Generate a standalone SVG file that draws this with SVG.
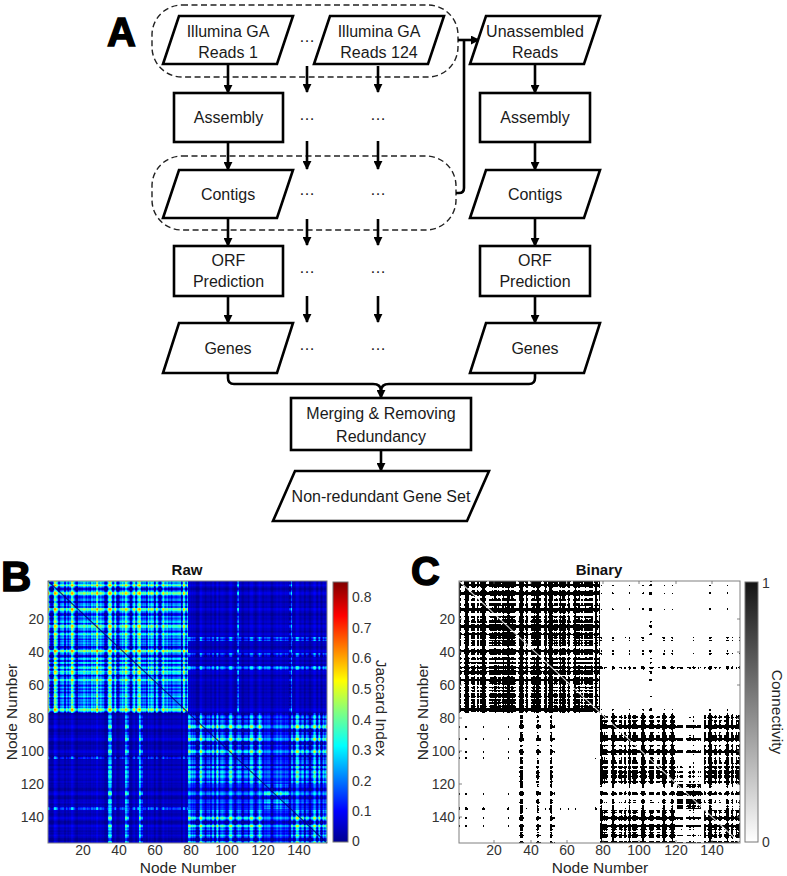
<svg xmlns="http://www.w3.org/2000/svg" width="787" height="876" viewBox="0 0 787 876">
<defs>
<style>
.box{fill:#fff;stroke:#000;stroke-width:2.6}
.dash{fill:none;stroke:#222;stroke-width:1.4;stroke-dasharray:6 3.5}
.conn{fill:none;stroke:#000;stroke-width:2.6}
.arr{marker-end:url(#ah)}
.t{font-family:"Liberation Sans",Arial,Helvetica,sans-serif;font-size:16px;fill:#1a1a1a;text-anchor:middle}
.big{font-family:"Liberation Sans",Arial,sans-serif;font-weight:bold;fill:#000;stroke:#000;stroke-width:1.4}
.tk{font-family:"Liberation Sans",Arial,sans-serif;font-size:14px;fill:#333}
.e{text-anchor:end}
.m{text-anchor:middle}
.ax{font-family:"Liberation Sans",Arial,sans-serif;font-size:15.5px;fill:#262626;text-anchor:middle}
.ttl{font-family:"Liberation Sans",Arial,sans-serif;font-size:15px;font-weight:bold;fill:#111;text-anchor:middle}
.frame{fill:none;stroke:#808080;stroke-width:1}
.tick{stroke:#666;stroke-width:0.8;fill:none}
</style>
<marker id="ah" viewBox="0 0 10 10" refX="9" refY="5" markerWidth="9" markerHeight="9" markerUnits="userSpaceOnUse" orient="auto"><path d="M0,0 L10,5 L0,10 Z" fill="#000"/></marker>
<linearGradient id="jet" x1="0" y1="1" x2="0" y2="0">
<stop offset="0" stop-color="#000090"/><stop offset="0.12" stop-color="#0000ff"/><stop offset="0.37" stop-color="#00ffff"/><stop offset="0.5" stop-color="#80ff80"/><stop offset="0.62" stop-color="#ffff00"/><stop offset="0.87" stop-color="#ff0000"/><stop offset="1" stop-color="#800000"/>
</linearGradient>
<linearGradient id="gray" x1="0" y1="1" x2="0" y2="0">
<stop offset="0" stop-color="#ffffff"/><stop offset="1" stop-color="#141414"/>
</linearGradient>
<filter id="rA" x="0" y="0" width="1" height="1" color-interpolation-filters="sRGB">
<feTurbulence type="fractalNoise" baseFrequency="0.24 0" numOctaves="2" seed="3" result="a"/>
<feColorMatrix in="a" type="matrix" values="3 0 0 0 -1.05 3 0 0 0 -1.05 3 0 0 0 -1.05 0 0 0 0 1" result="c"/>
<feTurbulence type="fractalNoise" baseFrequency="0 0.24" numOctaves="2" seed="11" result="b"/>
<feColorMatrix in="b" type="matrix" values="3 0 0 0 -1.05 3 0 0 0 -1.05 3 0 0 0 -1.05 0 0 0 0 1" result="r"/>
<feComposite in="c" in2="r" operator="arithmetic" k1="0" k2="0.5" k3="0.5" k4="0"/>
<feColorMatrix type="matrix" values="0.85 0 0 0 -0.12 0.85 0 0 0 -0.12 0.85 0 0 0 -0.12 0 0 0 0 1"/>
<feComponentTransfer><feFuncR type="table" tableValues="0 0 0 0 0.5 1 1 1 0.5"/><feFuncG type="table" tableValues="0 0 0.5 1 1 1 0.5 0 0"/><feFuncB type="table" tableValues="0.56 1 1 1 0.5 0 0 0 0"/></feComponentTransfer>
</filter>
<filter id="rD" x="0" y="0" width="1" height="1" color-interpolation-filters="sRGB">
<feTurbulence type="fractalNoise" baseFrequency="0.24 0" numOctaves="2" seed="3" result="a"/>
<feColorMatrix in="a" type="matrix" values="3 0 0 0 -1.05 3 0 0 0 -1.05 3 0 0 0 -1.05 0 0 0 0 1" result="c"/>
<feTurbulence type="fractalNoise" baseFrequency="0 0.24" numOctaves="2" seed="11" result="b"/>
<feColorMatrix in="b" type="matrix" values="3 0 0 0 -1.05 3 0 0 0 -1.05 3 0 0 0 -1.05 0 0 0 0 1" result="r"/>
<feComposite in="c" in2="r" operator="arithmetic" k1="0" k2="0.5" k3="0.5" k4="0"/>
<feColorMatrix type="matrix" values="0.75 0 0 0 -0.15 0.75 0 0 0 -0.15 0.75 0 0 0 -0.15 0 0 0 0 1"/>
<feComponentTransfer><feFuncR type="table" tableValues="0 0 0 0 0.5 1 1 1 0.5"/><feFuncG type="table" tableValues="0 0 0.5 1 1 1 0.5 0 0"/><feFuncB type="table" tableValues="0.56 1 1 1 0.5 0 0 0 0"/></feComponentTransfer>
</filter>
<filter id="rDs" x="0" y="0" width="1" height="1" color-interpolation-filters="sRGB">
<feTurbulence type="fractalNoise" baseFrequency="0.24 0" numOctaves="2" seed="3" result="a"/>
<feColorMatrix in="a" type="matrix" values="3 0 0 0 -1.05 3 0 0 0 -1.05 3 0 0 0 -1.05 0 0 0 0 1" result="c"/>
<feTurbulence type="fractalNoise" baseFrequency="0 0.24" numOctaves="2" seed="11" result="b"/>
<feColorMatrix in="b" type="matrix" values="3 0 0 0 -1.05 3 0 0 0 -1.05 3 0 0 0 -1.05 0 0 0 0 1" result="r"/>
<feComposite in="c" in2="r" operator="arithmetic" k1="0" k2="0.5" k3="0.5" k4="0"/>
<feColorMatrix type="matrix" values="0.45 0 0 0 -0.06 0.45 0 0 0 -0.06 0.45 0 0 0 -0.06 0 0 0 0 1"/>
<feComponentTransfer><feFuncR type="table" tableValues="0 0 0 0 0.5 1 1 1 0.5"/><feFuncG type="table" tableValues="0 0 0.5 1 1 1 0.5 0 0"/><feFuncB type="table" tableValues="0.56 1 1 1 0.5 0 0 0 0"/></feComponentTransfer>
</filter>
<filter id="rO" x="0" y="0" width="1" height="1" color-interpolation-filters="sRGB">
<feTurbulence type="fractalNoise" baseFrequency="0.24 0" numOctaves="2" seed="3" result="a"/>
<feColorMatrix in="a" type="matrix" values="3 0 0 0 -1.05 3 0 0 0 -1.05 3 0 0 0 -1.05 0 0 0 0 1" result="c"/>
<feTurbulence type="fractalNoise" baseFrequency="0 0.24" numOctaves="2" seed="11" result="b"/>
<feColorMatrix in="b" type="matrix" values="3 0 0 0 -1.05 3 0 0 0 -1.05 3 0 0 0 -1.05 0 0 0 0 1" result="r"/>
<feComposite in="c" in2="r" operator="arithmetic" k1="0" k2="0.5" k3="0.5" k4="0"/>
<feColorMatrix type="matrix" values="0.14 0 0 0 -0.01 0.14 0 0 0 -0.01 0.14 0 0 0 -0.01 0 0 0 0 1"/>
<feComponentTransfer><feFuncR type="table" tableValues="0 0 0 0 0.5 1 1 1 0.5"/><feFuncG type="table" tableValues="0 0 0.5 1 1 1 0.5 0 0"/><feFuncB type="table" tableValues="0.56 1 1 1 0.5 0 0 0 0"/></feComponentTransfer>
</filter>
<filter id="rS" x="0" y="0" width="1" height="1" color-interpolation-filters="sRGB">
<feTurbulence type="fractalNoise" baseFrequency="0.24 0" numOctaves="2" seed="3" result="a"/>
<feColorMatrix in="a" type="matrix" values="3 0 0 0 -1.05 3 0 0 0 -1.05 3 0 0 0 -1.05 0 0 0 0 1" result="c"/>
<feTurbulence type="fractalNoise" baseFrequency="0 0.24" numOctaves="2" seed="11" result="b"/>
<feColorMatrix in="b" type="matrix" values="3 0 0 0 -1.05 3 0 0 0 -1.05 3 0 0 0 -1.05 0 0 0 0 1" result="r"/>
<feComposite in="c" in2="r" operator="arithmetic" k1="0" k2="0.5" k3="0.5" k4="0"/>
<feColorMatrix type="matrix" values="0.6 0 0 0 -0.1 0.6 0 0 0 -0.1 0.6 0 0 0 -0.1 0 0 0 0 1"/>
<feComponentTransfer><feFuncR type="table" tableValues="0 0 0 0 0.5 1 1 1 0.5"/><feFuncG type="table" tableValues="0 0 0.5 1 1 1 0.5 0 0"/><feFuncB type="table" tableValues="0.56 1 1 1 0.5 0 0 0 0"/></feComponentTransfer>
</filter>
<filter id="bA" x="0" y="0" width="1" height="1" color-interpolation-filters="sRGB">
<feTurbulence type="fractalNoise" baseFrequency="0.24 0" numOctaves="2" seed="3" result="a"/>
<feColorMatrix in="a" type="matrix" values="3 0 0 0 -1.05 3 0 0 0 -1.05 3 0 0 0 -1.05 0 0 0 0 1" result="c"/>
<feTurbulence type="fractalNoise" baseFrequency="0 0.24" numOctaves="2" seed="11" result="b"/>
<feColorMatrix in="b" type="matrix" values="3 0 0 0 -1.05 3 0 0 0 -1.05 3 0 0 0 -1.05 0 0 0 0 1" result="r"/>
<feComposite in="c" in2="r" operator="arithmetic" k1="0" k2="0.5" k3="0.5" k4="0"/>
<feColorMatrix type="matrix" values="1 0 0 0 0.12 1 0 0 0 0.12 1 0 0 0 0.12 0 0 0 0 1"/>
<feComponentTransfer><feFuncR type="discrete" tableValues="1 0"/><feFuncG type="discrete" tableValues="1 0"/><feFuncB type="discrete" tableValues="1 0"/></feComponentTransfer>
</filter>
<filter id="bD" x="0" y="0" width="1" height="1" color-interpolation-filters="sRGB">
<feTurbulence type="fractalNoise" baseFrequency="0.24 0" numOctaves="2" seed="3" result="a"/>
<feColorMatrix in="a" type="matrix" values="3 0 0 0 -1.05 3 0 0 0 -1.05 3 0 0 0 -1.05 0 0 0 0 1" result="c"/>
<feTurbulence type="fractalNoise" baseFrequency="0 0.24" numOctaves="2" seed="11" result="b"/>
<feColorMatrix in="b" type="matrix" values="3 0 0 0 -1.05 3 0 0 0 -1.05 3 0 0 0 -1.05 0 0 0 0 1" result="r"/>
<feComposite in="c" in2="r" operator="arithmetic" k1="0" k2="0.5" k3="0.5" k4="0"/>
<feColorMatrix type="matrix" values="1 0 0 0 0.07 1 0 0 0 0.07 1 0 0 0 0.07 0 0 0 0 1"/>
<feComponentTransfer><feFuncR type="discrete" tableValues="1 0"/><feFuncG type="discrete" tableValues="1 0"/><feFuncB type="discrete" tableValues="1 0"/></feComponentTransfer>
</filter>
<filter id="bDs" x="0" y="0" width="1" height="1" color-interpolation-filters="sRGB">
<feTurbulence type="fractalNoise" baseFrequency="0.24 0" numOctaves="2" seed="3" result="a"/>
<feColorMatrix in="a" type="matrix" values="3 0 0 0 -1.05 3 0 0 0 -1.05 3 0 0 0 -1.05 0 0 0 0 1" result="c"/>
<feTurbulence type="fractalNoise" baseFrequency="0 0.24" numOctaves="2" seed="11" result="b"/>
<feColorMatrix in="b" type="matrix" values="3 0 0 0 -1.05 3 0 0 0 -1.05 3 0 0 0 -1.05 0 0 0 0 1" result="r"/>
<feComposite in="c" in2="r" operator="arithmetic" k1="0" k2="0.5" k3="0.5" k4="0"/>
<feColorMatrix type="matrix" values="1 0 0 0 -0.13 1 0 0 0 -0.13 1 0 0 0 -0.13 0 0 0 0 1"/>
<feComponentTransfer><feFuncR type="discrete" tableValues="1 0"/><feFuncG type="discrete" tableValues="1 0"/><feFuncB type="discrete" tableValues="1 0"/></feComponentTransfer>
</filter>
<filter id="bO" x="0" y="0" width="1" height="1" color-interpolation-filters="sRGB">
<feTurbulence type="fractalNoise" baseFrequency="0.24 0" numOctaves="2" seed="3" result="a"/>
<feColorMatrix in="a" type="matrix" values="3 0 0 0 -1.05 3 0 0 0 -1.05 3 0 0 0 -1.05 0 0 0 0 1" result="c"/>
<feTurbulence type="fractalNoise" baseFrequency="0 0.24" numOctaves="2" seed="11" result="b"/>
<feColorMatrix in="b" type="matrix" values="3 0 0 0 -1.05 3 0 0 0 -1.05 3 0 0 0 -1.05 0 0 0 0 1" result="r"/>
<feComposite in="c" in2="r" operator="arithmetic" k1="0" k2="0.5" k3="0.5" k4="0"/>
<feColorMatrix type="matrix" values="1 0 0 0 -0.44 1 0 0 0 -0.44 1 0 0 0 -0.44 0 0 0 0 1"/>
<feComponentTransfer><feFuncR type="discrete" tableValues="1 0"/><feFuncG type="discrete" tableValues="1 0"/><feFuncB type="discrete" tableValues="1 0"/></feComponentTransfer>
</filter>
<filter id="bS" x="0" y="0" width="1" height="1" color-interpolation-filters="sRGB">
<feTurbulence type="fractalNoise" baseFrequency="0.24 0" numOctaves="2" seed="3" result="a"/>
<feColorMatrix in="a" type="matrix" values="3 0 0 0 -1.05 3 0 0 0 -1.05 3 0 0 0 -1.05 0 0 0 0 1" result="c"/>
<feTurbulence type="fractalNoise" baseFrequency="0 0.24" numOctaves="2" seed="11" result="b"/>
<feColorMatrix in="b" type="matrix" values="3 0 0 0 -1.05 3 0 0 0 -1.05 3 0 0 0 -1.05 0 0 0 0 1" result="r"/>
<feComposite in="c" in2="r" operator="arithmetic" k1="0" k2="0.5" k3="0.5" k4="0"/>
<feColorMatrix type="matrix" values="1 0 0 0 -0.12 1 0 0 0 -0.12 1 0 0 0 -0.12 0 0 0 0 1"/>
<feComponentTransfer><feFuncR type="discrete" tableValues="1 0"/><feFuncG type="discrete" tableValues="1 0"/><feFuncB type="discrete" tableValues="1 0"/></feComponentTransfer>
</filter>
</defs>
<rect width="787" height="876" fill="#fff"/>

<!-- Panel A -->
<text class="big" x="107" y="46" font-size="40">A</text>
<g id="grp-reads"><rect class="dash" x="152" y="5" width="306" height="72" rx="30" ry="30"/></g>
<g id="grp-contigs"><rect class="dash" x="152" y="156" width="304" height="74" rx="30" ry="30"/></g>

<g id="connectors">
<path class="conn arr" d="M228,64 V93"/>
<path class="conn arr" d="M228,142 V170"/>
<path class="conn arr" d="M228,218 V246"/>
<path class="conn arr" d="M228,296 V323"/>
<path class="conn arr" d="M535,64 V93"/>
<path class="conn arr" d="M535,142 V170"/>
<path class="conn arr" d="M535,218 V246"/>
<path class="conn arr" d="M535,296 V323"/>
<path class="conn arr" d="M307,66 V92"/>
<path class="conn arr" d="M378,66 V92"/>
<path class="conn arr" d="M307,141 V169"/>
<path class="conn arr" d="M378,141 V169"/>
<path class="conn arr" d="M307,219 V245"/>
<path class="conn arr" d="M378,219 V245"/>
<path class="conn arr" d="M307,296 V322"/>
<path class="conn arr" d="M378,296 V322"/>
<path class="conn" d="M456,193 H459 Q464,193 464,188 V40"/>
<path class="conn arr" d="M458,40 H479"/>
<path class="conn" d="M228,373 V378 Q228,384 234,384 H373 Q381,384 381,391"/>
<path class="conn" d="M535,373 V378 Q535,384 529,384 H389 Q381,384 381,391"/>
<path class="conn arr" d="M381,387 V398"/>
<path class="conn arr" d="M381,450 V471"/>
</g>

<g id="n-reads1"><path class="box" d="M179,16 H293 L277,64 H163 Z"/><text class="t" x="228" y="36.5">Illumina GA</text><text class="t" x="228" y="57.5">Reads 1</text></g>
<g id="n-reads124"><path class="box" d="M330,16 H444 L428,64 H314 Z"/><text class="t" x="379" y="36.5">Illumina GA</text><text class="t" x="379" y="57.5">Reads 124</text></g>
<g id="n-unassembled"><path class="box" d="M486,16 H600 L584,64 H470 Z"/><text class="t" x="535" y="36.5">Unassembled</text><text class="t" x="535" y="57.5">Reads</text></g>
<g id="n-asm1"><rect class="box" x="174" y="93" width="109" height="49"/><text class="t" x="228.5" y="123">Assembly</text></g>
<g id="n-asm2"><rect class="box" x="480" y="93" width="110" height="49"/><text class="t" x="535" y="123">Assembly</text></g>
<g id="n-contigs1"><path class="box" d="M179,170 H293 L277,218 H163 Z"/><text class="t" x="228" y="200">Contigs</text></g>
<g id="n-contigs2"><path class="box" d="M486,170 H600 L584,218 H470 Z"/><text class="t" x="535" y="200">Contigs</text></g>
<g id="n-orf1"><rect class="box" x="174" y="246" width="109" height="50"/><text class="t" x="228.5" y="266">ORF</text><text class="t" x="228.5" y="287">Prediction</text></g>
<g id="n-orf2"><rect class="box" x="480" y="246" width="110" height="50"/><text class="t" x="535" y="266">ORF</text><text class="t" x="535" y="287">Prediction</text></g>
<g id="n-genes1"><path class="box" d="M179,323 H293 L277,373 H163 Z"/><text class="t" x="228" y="354">Genes</text></g>
<g id="n-genes2"><path class="box" d="M486,323 H600 L584,373 H470 Z"/><text class="t" x="535" y="354">Genes</text></g>
<g id="n-merge"><rect class="box" x="291" y="398" width="180" height="52"/><text class="t" x="381" y="419">Merging &amp; Removing</text><text class="t" x="381" y="442">Redundancy</text></g>
<g id="n-nr"><path class="box" d="M295,471 H489 L467,521 H273 Z"/><text class="t" x="381" y="502">Non-redundant Gene Set</text></g>
<g id="ellipses">
<text class="t" x="307" y="41.5">…</text>
<text class="t" x="307" y="119.5">…</text><text class="t" x="378" y="119.5">…</text>
<text class="t" x="307" y="194.5">…</text><text class="t" x="378" y="194.5">…</text>
<text class="t" x="307" y="272.5">…</text><text class="t" x="378" y="272.5">…</text>
<text class="t" x="307" y="349.5">…</text><text class="t" x="378" y="349.5">…</text>
</g>

<!-- Panel B -->
<g id="panel-b">
<text class="big" x="1" y="591" font-size="42">B</text>
<text class="ttl" x="187" y="575">Raw</text>
<rect x="48" y="581" width="140" height="132" filter="url(#rA)"/>
<rect x="188" y="581" width="139" height="132" filter="url(#rO)"/>
<rect x="48" y="713" width="140" height="130" filter="url(#rO)"/>
<rect x="188" y="713" width="139" height="130" filter="url(#rD)"/>
<rect x="263.6" y="713" width="27" height="71" filter="url(#rDs)"/>
<rect x="188" y="784" width="75.6" height="25.3" filter="url(#rDs)"/>
<rect x="290.6" y="784" width="36.4" height="25.3" filter="url(#rDs)"/>
<rect x="263.6" y="809.3" width="27" height="33.7" filter="url(#rDs)"/>
<rect x="188" y="637" width="139" height="3.4" filter="url(#rS)"/>
<rect x="188" y="653" width="139" height="3.4" filter="url(#rS)"/>
<rect x="188" y="666" width="139" height="3.4" filter="url(#rS)"/>
<rect x="237" y="581" width="2" height="132" filter="url(#rS)"/>
<rect x="289.2" y="581" width="2" height="132" filter="url(#rS)"/>
<rect x="108" y="713" width="3.6" height="130" filter="url(#rS)"/>
<rect x="125" y="713" width="3.6" height="130" filter="url(#rS)"/>
<rect x="139" y="713" width="3.6" height="130" filter="url(#rS)"/>
<rect x="48" y="756.8" width="140" height="1.8" filter="url(#rS)"/>
<rect x="48" y="807.5" width="140" height="1.8" filter="url(#rS)"/>
<line x1="48" y1="581" x2="327" y2="843" stroke="#00007a" stroke-width="1.1" opacity="0.8"/>
<rect class="frame" x="48" y="581" width="279" height="262"/>
<g class="tk e">
<text x="44" y="624">20</text><text x="44" y="657">40</text><text x="44" y="690">60</text><text x="44" y="723">80</text><text x="44" y="756">100</text><text x="44" y="789">120</text><text x="44" y="822">140</text>
</g>
<g class="tk m">
<text x="83" y="855">20</text><text x="119" y="855">40</text><text x="155" y="855">60</text><text x="191" y="855">80</text><text x="227" y="855">100</text><text x="263" y="855">120</text><text x="299" y="855">140</text>
</g>
<text class="ax" x="188" y="873">Node Number</text>
<text class="ax" transform="translate(17 712) rotate(-90)">Node Number</text>
<rect x="333" y="582" width="15" height="260" fill="url(#jet)" stroke="#777" stroke-width="1"/>
<g class="tk">
<text x="352" y="846">0</text><text x="352" y="816">0.1</text><text x="352" y="786">0.2</text><text x="352" y="755">0.3</text><text x="352" y="725">0.4</text><text x="352" y="694">0.5</text><text x="352" y="663">0.6</text><text x="352" y="633">0.7</text><text x="352" y="602">0.8</text>
</g>
<text class="ax" transform="translate(376 708) rotate(90)">Jaccard Index</text>
</g>

<!-- Panel C -->
<g id="panel-c">
<text class="big" x="411" y="585" font-size="40">C</text>
<text class="ttl" x="599" y="575">Binary</text>
<g transform="translate(459 0) scale(1.00717 1) translate(-48 0)">
<rect x="48" y="581" width="140" height="132" filter="url(#bA)"/>
<rect x="188" y="581" width="139" height="132" filter="url(#bO)"/>
<rect x="48" y="713" width="140" height="130" filter="url(#bO)"/>
<rect x="188" y="713" width="139" height="130" filter="url(#bD)"/>
<rect x="263.6" y="713" width="27" height="71" filter="url(#bDs)"/>
<rect x="188" y="784" width="75.6" height="25.3" filter="url(#bDs)"/>
<rect x="290.6" y="784" width="36.4" height="25.3" filter="url(#bDs)"/>
<rect x="263.6" y="809.3" width="27" height="33.7" filter="url(#bDs)"/>
<rect x="188" y="637" width="139" height="3.4" filter="url(#bS)"/>
<rect x="188" y="653" width="139" height="3.4" filter="url(#bS)"/>
<rect x="188" y="666" width="139" height="3.4" filter="url(#bS)"/>
<rect x="237" y="581" width="2" height="132" filter="url(#bS)"/>
<rect x="289.2" y="581" width="2" height="132" filter="url(#bS)"/>
<rect x="108" y="713" width="3.6" height="130" filter="url(#bS)"/>
<rect x="125" y="713" width="3.6" height="130" filter="url(#bS)"/>
<rect x="139" y="713" width="3.6" height="130" filter="url(#bS)"/>
<rect x="48" y="756.8" width="140" height="1.8" filter="url(#bS)"/>
<rect x="48" y="807.5" width="140" height="1.8" filter="url(#bS)"/>
</g>
<line x1="459" y1="581" x2="740" y2="843" stroke="#fff" stroke-width="1.1" opacity="0.8"/>
<rect class="frame" x="459" y="581" width="281" height="262"/>
<path class="tick" d="M459,619 h3 M459,652 h3 M459,685 h3 M459,718 h3 M459,751 h3 M459,784 h3 M459,817 h3 M740,619 h-3 M740,652 h-3 M740,685 h-3 M740,718 h-3 M740,751 h-3 M740,784 h-3 M740,817 h-3 M494,843 v-3 M531,843 v-3 M567,843 v-3 M603,843 v-3 M639,843 v-3 M676,843 v-3 M712,843 v-3 M494,581 v3 M531,581 v3 M567,581 v3 M603,581 v3 M639,581 v3 M676,581 v3 M712,581 v3"/>
<g class="tk e">
<text x="455" y="624">20</text><text x="455" y="657">40</text><text x="455" y="690">60</text><text x="455" y="723">80</text><text x="455" y="756">100</text><text x="455" y="789">120</text><text x="455" y="822">140</text>
</g>
<g class="tk m">
<text x="494" y="855">20</text><text x="531" y="855">40</text><text x="567" y="855">60</text><text x="603" y="855">80</text><text x="639" y="855">100</text><text x="676" y="855">120</text><text x="712" y="855">140</text>
</g>
<text class="ax" x="600" y="873">Node Number</text>
<text class="ax" transform="translate(428 712) rotate(-90)">Node Number</text>
<rect x="745" y="582" width="13" height="260" fill="url(#gray)" stroke="#777" stroke-width="1"/>
<g class="tk"><text x="762" y="588">1</text><text x="762" y="847">0</text></g>
<text class="ax" transform="translate(772 712) rotate(90)">Connectivity</text>
</g>
</svg>
